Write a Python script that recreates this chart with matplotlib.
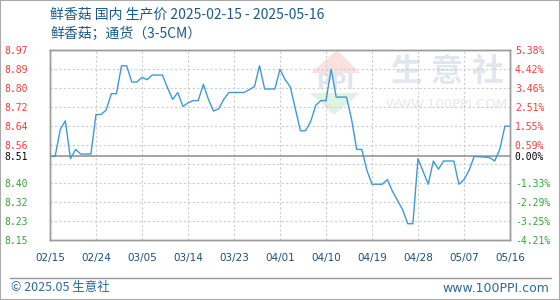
import numpy as np
import matplotlib.pyplot as plt
import matplotlib.patches as patches
from matplotlib.lines import Line2D

plt.rcParams['font.family'] = ['Noto Sans CJK SC', 'DejaVu Sans']

title_1 = '鲜香菇 国内 生产价 2025-02-15 - 2025-05-16'
title_2 = '鲜香菇；通货（3-5CM）'

# days after 2025-02-15 and price (元/kg)
day = [0, 1, 2, 3, 4, 5, 6, 8, 9, 10, 11, 12, 13, 14, 15, 16, 17, 18, 19, 20,
       22, 23, 24, 25, 26, 27, 28, 29, 30, 31, 32, 33, 34, 35, 38, 40, 41, 42,
       44, 45, 46, 47, 49, 50, 51, 52, 53, 54, 55, 56, 58, 59, 60, 61, 62, 63,
       65, 66, 67, 68, 69, 70, 71, 72, 74, 75, 76, 77, 79, 80, 81, 82, 83, 86,
       87, 88, 89, 90]
price = [8.51, 8.51, 8.625, 8.663, 8.50, 8.54, 8.52, 8.52, 8.69, 8.69, 8.71,
         8.78, 8.78, 8.90, 8.90, 8.83, 8.83, 8.85, 8.84, 8.86, 8.86, 8.805,
         8.755, 8.785, 8.725, 8.74, 8.75, 8.75, 8.82, 8.755, 8.705, 8.715,
         8.755, 8.785, 8.785, 8.81, 8.90, 8.80, 8.80, 8.885, 8.84, 8.81, 8.62,
         8.62, 8.66, 8.73, 8.75, 8.75, 8.885, 8.765, 8.765, 8.67, 8.54, 8.54,
         8.45, 8.39, 8.39, 8.41, 8.36, 8.32, 8.28, 8.22, 8.22, 8.50, 8.39,
         8.49, 8.455, 8.49, 8.49, 8.39, 8.41, 8.45, 8.51, 8.505, 8.49, 8.54,
         8.64, 8.64]

base = 8.51
y_top, y_bot = 8.97, 8.15
left_labels = ['8.97', '8.89', '8.80', '8.72', '8.64', '8.56', '', '8.40', '8.32', '8.23', '8.15']
right_labels = ['5.38%', '4.42%', '3.46%', '2.51%', '1.55%', '0.59%', '', '-1.33%', '-2.29%', '-3.25%', '-4.21%']
x_labels = ['02/15', '02/24', '03/05', '03/14', '03/23', '04/01', '04/10', '04/19', '04/28', '05/07', '05/16']
x_step = 9

red = '#ff3838'
green = '#2ea82e'


def px(x, y):
	return (x / 560, 1 - y / 300)


fig = plt.figure(figsize=(5.6, 3.0), dpi=100)
fig.patch.set_facecolor('white')
ax = fig.add_axes([50 / 560, 1 - 240 / 300, 460 / 560, 190.5 / 300])
ax.set_facecolor('none')

# watermark
fig.patches.append(patches.Polygon([px(311, 73), px(337, 50), px(360, 73)], closed=True,
	transform=fig.transFigure, facecolor='#fbe0e0', edgecolor='none', zorder=-2))
fig.patches.append(patches.Polygon([px(310, 93), px(360, 93), px(334, 115)], closed=True,
	transform=fig.transFigure, facecolor='#e0f2e0', edgecolor='none', zorder=-2))
fig.text(*px(335, 83), 'PPI', fontsize=15, fontweight='bold', color='#e0e5ef',
	ha='center', va='center', family='DejaVu Sans', zorder=-1)
for i, ch in enumerate('生意社'):
	fig.text(*px(406 + i * 41, 72), ch, fontsize=23, fontweight='bold', color='#e2e6ee',
		ha='center', va='center', zorder=-1)
fig.text(*px(447, 105), 'WWW.100PPI.COM', fontsize=9.5, color='#e8e8e8',
	ha='center', va='center', family='DejaVu Sans', zorder=-1)

ax.plot(day, price, color='#3d9ad9', lw=1.0, zorder=3)
ax.axhline(base, color='#999999', lw=1.2, zorder=2)

grid_y = list(np.linspace(y_top, y_bot, len(left_labels)))
ax.set_ylim(y_bot, y_top)
ax.set_xlim(0, x_step * (len(x_labels) - 1))
ax.set_yticks(grid_y + [base])
ax.set_yticklabels(left_labels + [f'{base:.2f}'], family='DejaVu Sans Mono', fontsize=7)
for lab, c in zip(ax.get_yticklabels(), [red] * 6 + [green] * 5 + ['black']):
	lab.set_color(c)
ax.tick_params(axis='y', length=0, pad=16)

ax.set_xticks([i * x_step for i in range(len(x_labels))])
ax.set_xticklabels(x_labels, family='DejaVu Sans', fontsize=7.5, color='#1c4f7c')
ax.tick_params(axis='x', length=0, pad=9)
ax.grid(color='#cccccc', linestyle=(0, (2, 2)), lw=0.8)

ax2 = ax.twinx()
ax2.set_ylim(y_bot, y_top)
ax2.set_yticks(grid_y + [base])
ax2.set_yticklabels(right_labels + ['0.00%'], family='DejaVu Sans Mono', fontsize=7)
for lab, c in zip(ax2.get_yticklabels(), [red] * 6 + [green] * 5 + ['black']):
	lab.set_color(c)
ax2.tick_params(axis='y', length=0, pad=3.5)

for a in (ax, ax2):
	for s in a.spines.values():
		s.set_color('#999999')
		s.set_linewidth(1)

fig.text(*px(50, 14), title_1, fontsize=10, color='#1a5a8a', va='center', ha='left')
fig.text(*px(50, 34), title_2, fontsize=10, color='#1a5a8a', va='center', ha='left')

# footer
fig.add_artist(Line2D([10 / 560, 551 / 560], [1 - 277.5 / 300] * 2, transform=fig.transFigure,
	color='#999999', lw=1))
fig.text(*px(11, 288), '© 2025.05 生意社', fontsize=9, color='#2b6a9b', va='center', ha='left')
fig.text(*px(549, 288), 'www.100PPI.com', fontsize=9, color='#2b6a9b', va='center', ha='right',
	family='DejaVu Sans')

fig.patches.append(patches.Rectangle((0, 0), 1, 1, transform=fig.transFigure, fill=False,
	edgecolor='#aaaaaa', lw=1.5))

fig.savefig('out.png', dpi=100)
